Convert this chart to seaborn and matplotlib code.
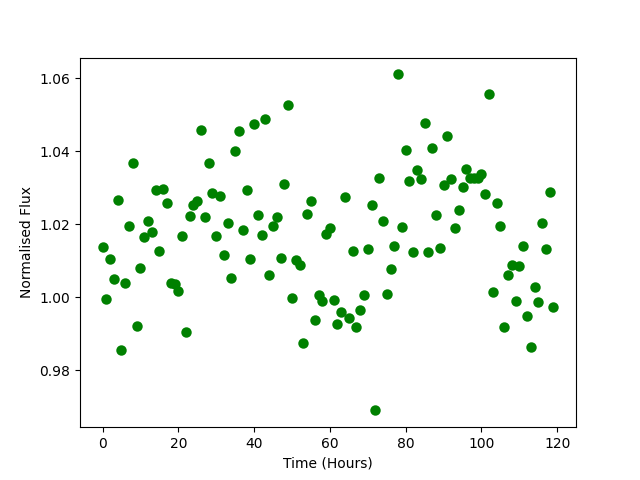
import numpy as np
import pandas as pd
import matplotlib
matplotlib.use("Agg")
import matplotlib.pyplot as plt
import seaborn as sns

# hourly samples, 0..119
hours = list(range(120))
flux = [
    1.0137, 0.9995, 1.0104, 1.0050, 1.0266, 0.9855, 1.0038, 1.0195, 1.0367, 0.9920,
    1.0080, 1.0164, 1.0208, 1.0178, 1.0293, 1.0126, 1.0296, 1.0258, 1.0038, 1.0036,
    1.0016, 1.0167, 0.9904, 1.0222, 1.0252, 1.0263, 1.0458, 1.0219, 1.0367, 1.0285,
    1.0167, 1.0279, 1.0115, 1.0205, 1.0052, 1.0400, 1.0455, 1.0184, 1.0293, 1.0104,
    1.0474, 1.0225, 1.0170, 1.0488, 1.0060, 1.0195, 1.0219, 1.0107, 1.0310, 1.0526,
    0.9997, 1.0101, 1.0088, 0.9874, 1.0227, 1.0263, 0.9937, 1.0005, 0.9989, 1.0173,
    1.0189, 0.9992, 0.9926, 0.9959, 1.0274, 0.9942, 1.0126, 0.9918, 0.9964, 1.0005,
    1.0132, 1.0252, 0.9690, 1.0326, 1.0208, 1.0008, 1.0077, 1.0140, 1.0611, 1.0192,
    1.0403, 1.0320, 1.0123, 1.0348, 1.0323, 1.0479, 1.0123, 1.0408, 1.0225, 1.0134,
    1.0307, 1.0441, 1.0323, 1.0189, 1.0238, 1.0301, 1.0351, 1.0326, 1.0326, 1.0326,
    1.0337, 1.0282, 1.0556, 1.0014, 1.0258, 1.0195, 0.9918, 1.0060, 1.0088, 0.9989,
    1.0085, 1.0142, 0.9948, 0.9863, 1.0027, 0.9986, 1.0205, 1.0132, 1.0290, 0.9973,
]

df = pd.DataFrame({"hours": hours, "flux": flux})

fig, ax = plt.subplots(figsize=(6.4, 4.8), dpi=100)
sns.scatterplot(data=df, x="hours", y="flux", color="green", s=36,
                edgecolor="green", linewidth=1.5, ax=ax)
ax.set_xlabel("Time (Hours)")
ax.set_ylabel("Normalised Flux")
fig.savefig("out.png")
